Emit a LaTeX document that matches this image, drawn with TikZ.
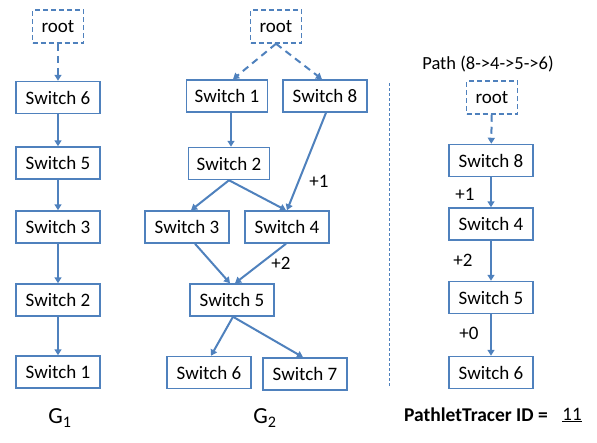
\documentclass[tikz,border=0pt]{standalone}
\usepackage{fontspec}
\setmainfont{Carlito}
\usetikzlibrary{arrows.meta}
\definecolor{ob}{HTML}{4F81BD}
\begin{document}
\begin{tikzpicture}[x=1pt,y=-1pt,
 box/.style={draw=ob, line width=1.5pt, minimum width=84pt, minimum height=32pt, inner sep=0pt, font=\fontsize{19}{21}\selectfont},
 rootbox/.style={box, dash pattern=on 5pt off 3pt, minimum width=51pt, minimum height=33pt},
 arr/.style={draw=ob, line width=2pt, -{Triangle[width=7pt,length=6pt]}},
 darr/.style={arr, dash pattern=on 7pt off 5pt},
 lbl/.style={font=\fontsize{19}{21}\selectfont},
 glbl/.style={font=\fontsize{23}{25}\selectfont}]
\useasboundingbox (0,0) rectangle (597,442);
% G1
\node[rootbox] (r1) at (58,26.5) {root};
\node[box] (a6) at (58,97.5) {Switch 6};
\node[box] (a5) at (58,163) {Switch 5};
\node[box] (a3) at (58,227) {Switch 3};
\node[box] (a2) at (58,300) {Switch 2};
\node[box] (a1) at (58,372) {Switch 1};
\draw[darr] (r1) -- (a6);
\draw[arr] (a6) -- (a5);
\draw[arr] (a5) -- (a3);
\draw[arr] (a3) -- (a2);
\draw[arr] (a2) -- (a1);
\node[glbl] (g1) at (60,418) {G\textsubscript{1}};
% G2
\node[rootbox] (r2) at (276,26.5) {root};
\node[box, minimum width=81pt] (b1) at (227,96) {Switch 1};
\node[box] (b8) at (325,96) {Switch 8};
\node[box, minimum width=81pt] (b2) at (229,163.5) {Switch 2};
\node[box] (b3) at (187,227) {Switch 3};
\node[box] (b4) at (287,227) {Switch 4};
\node[box] (b5) at (232,300) {Switch 5};
\node[box] (b6) at (209,372.5) {Switch 6};
\node[box] (b7) at (305,374) {Switch 7};
\draw[darr] (r2.south) -- ([xshift=6pt]b1.north);
\draw[darr] (r2.south) -- ([xshift=-3pt]b8.north);
\draw[arr] ([xshift=4pt]b1.south) -- ([xshift=2pt]b2.north);
\draw[arr] ([xshift=1pt]b8.south) -- (b4.north);
\draw[arr] (b2.south) -- ([xshift=4pt]b3.north);
\draw[arr] (b2.south) -- ([xshift=-1pt]b4.north);
\draw[arr] ([xshift=8pt]b3.south) -- ([xshift=-2pt]b5.north);
\draw[arr] ([xshift=-1pt]b4.south) -- ([xshift=3pt]b5.north);
\draw[arr] ([xshift=1pt]b5.south) -- ([xshift=2pt]b6.north);
\draw[arr] ([xshift=1pt]b5.south) -- ([xshift=-2pt]b7.north);
\node[lbl] (p1) at (319,181) {+1};
\node[lbl] (p2) at (281,263) {+2};
\node[glbl] (g2) at (265,418) {G\textsubscript{2}};
% divider
\coordinate (dt) at (389,83);
\coordinate (db) at (389,387);
\draw[ob, line width=0.8pt, dash pattern=on 3pt off 2pt] (dt) -- (db);
% Path
\node[font=\fontsize{18.5}{20}\selectfont] (pt) at (488,64) {Path (8->4->5->6)};
\node[rootbox] (r3) at (492,97.5) {root};
\node[box] (c8) at (491,160.5) {Switch 8};
\node[box] (c4) at (491,224) {Switch 4};
\node[box] (c5) at (491,297.5) {Switch 5};
\node[box] (c6) at (491,372.5) {Switch 6};
\draw[darr] (r3) -- (c8);
\draw[arr] (c8) -- (c4);
\draw[arr] (c4) -- (c5);
\draw[arr] (c5) -- (c6);
\node[lbl] (q1) at (465,194) {+1};
\node[lbl] (q2) at (463,260) {+2};
\node[lbl] (q0) at (469,333) {+0};
\node[font=\fontsize{19.5}{21}\selectfont\bfseries] (id) at (476,415) {PathletTracer ID =};
\node[font=\fontsize{19}{21}\selectfont] (idv) at (572,415) {\underline{11}};
\end{tikzpicture}
\end{document}
